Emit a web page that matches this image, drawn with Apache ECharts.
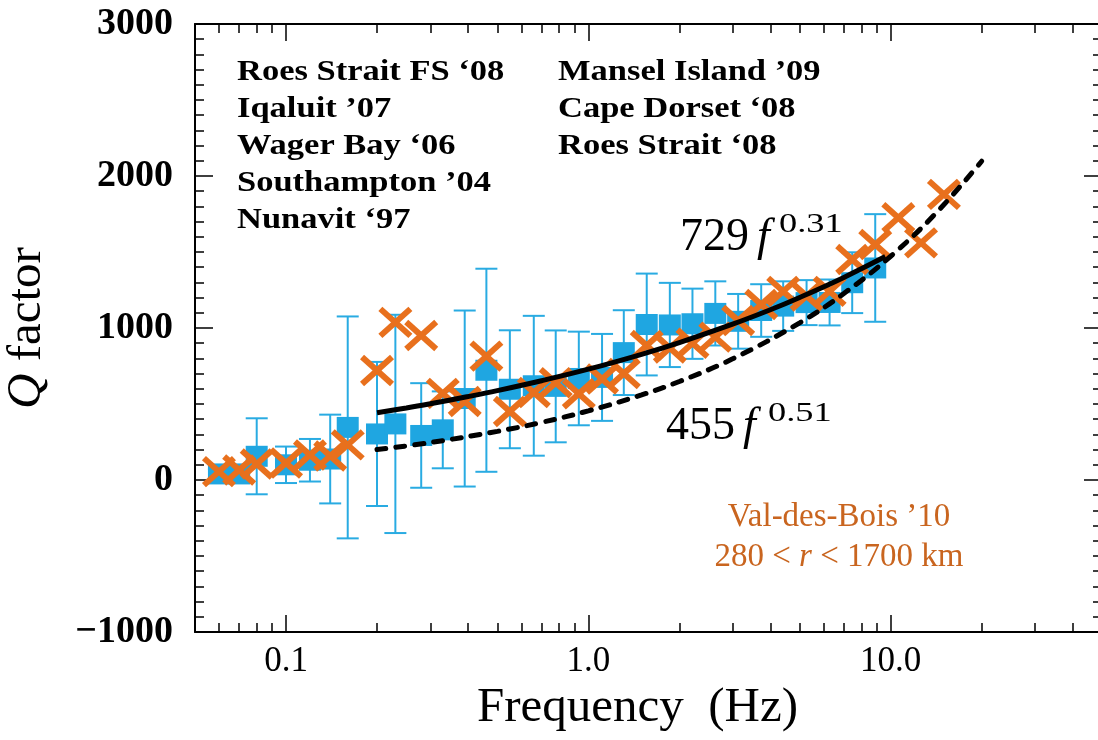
<!DOCTYPE html>
<html><head><meta charset="utf-8">
<script src="https://cdn.jsdelivr.net/npm/echarts@6/dist/echarts.min.js"></script>
<style>html,body{margin:0;padding:0;background:#fff}#main{width:1098px;height:740px}</style>
</head><body><div id="main"></div>
<script>
// ---------- data ----------
const blueFreq = [0.06, 0.07, 0.08, 0.10, 0.12, 0.14, 0.16, 0.20, 0.23, 0.28, 0.33, 0.39, 0.46, 0.55, 0.66, 0.78, 0.93, 1.11, 1.31, 1.56, 1.86, 2.21, 2.63, 3.13, 3.73, 4.41, 5.27, 6.28, 7.46, 8.89];
const blueQ    = [40, 40, 156, 100, 130, 138, 346, 303, 369, 293, 330, 536, 722, 597, 620, 616, 668, 675, 838, 1023, 1020, 1028, 1096, 1044, 1115, 1144, 1167, 1168, 1298, 1395];
const blueErr  = [30, 30, 250, 120, 140, 292, 730, 474, 718, 344, 253, 579, 668, 388, 460, 368, 308, 286, 279, 335, 277, 231, 211, 180, 173, 163, 148, 151, 200, 354];

const orangeFreq = [0.06, 0.07, 0.08, 0.10, 0.12, 0.14, 0.16, 0.20, 0.23, 0.28, 0.33, 0.39, 0.46, 0.55, 0.66, 0.78, 0.93, 1.11, 1.31, 1.56, 1.86, 2.21, 2.63, 3.13, 3.73, 4.41, 5.27, 6.28, 7.46, 8.89, 10.6, 12.6, 15.0];
const orangeQ    = [55, 66, 105, 112, 165, 158, 231, 720, 1037, 951, 570, 516, 815, 450, 576, 640, 567, 665, 700, 885, 868, 900, 940, 1050, 1155, 1241, 1210, 1241, 1450, 1549, 1725, 1560, 1879];

// fit 729 f^0.31 (solid) and 455 f^0.51 (dashed)
const fitAFreq = [0.2, 0.25, 0.3, 0.4, 0.5, 0.7, 1, 1.5, 2, 3, 4, 5, 7, 9.6];
const fitAQ    = [443, 474, 502, 549, 588, 653, 729, 827, 904, 1025, 1120, 1201, 1333, 1470];
const fitBFreq = [0.2, 0.3, 0.5, 0.7, 1, 1.5, 2, 3, 5, 7, 10, 14, 20];
const fitBQ    = [200, 246, 320, 379, 455, 560, 648, 797, 1034, 1227, 1472, 1748, 2097];

const xMajorTicks  = [0.1, 1, 10];
const xMajorLabels = ['0.1', '1.0', '10.0'];
const xMinorTicks  = [0.06, 0.07, 0.08, 0.09, 0.2, 0.3, 0.4, 0.5, 0.6, 0.7, 0.8, 0.9, 2, 3, 4, 5, 6, 7, 8, 9, 20, 30, 40];
const yTickValues  = [-1000, 0, 1000, 2000, 3000];
const yTickLabels  = ['\u22121000', '0', '1000', '2000', '3000'];

const notesLeft  = ['Roes Strait FS \u201808', 'Iqaluit \u201907', 'Wager Bay \u201806', 'Southampton \u201904', 'Nunavit \u201897'];
const notesRight = ['Mansel Island \u201909', 'Cape Dorset \u201808', 'Roes Strait \u201808'];

// ---------- style ----------
const FONT = '"Liberation Serif","Times New Roman",serif';
const BLUE = '#1fa6e1';
const ORANGE = '#e8701d';
const ORANGE_TEXT = '#c9651f';

const chart = echarts.init(document.getElementById('main'), null, {renderer: 'canvas'});

function xAxisDef(pos, major, withLine) {
  return {
    type: 'log', logBase: 10, min: 0.05, max: 50, position: pos, gridIndex: 0,
    splitLine: {show: false}, minorTick: {show: false}, minorSplitLine: {show: false},
    axisLine: {show: withLine, onZero: false, lineStyle: {color: '#000', width: 2}},
    axisTick: {show: true, inside: true, length: major ? 17 : 9,
      lineStyle: {color: '#000', width: 1.5}, customValues: major ? xMajorTicks : xMinorTicks},
    axisLabel: {show: false}
  };
}
function yAxisDef(pos) {
  return {
    type: 'value', min: -1000, max: 3000, interval: 1000, position: pos,
    splitLine: {show: false},
    axisLine: {show: true, onZero: false, lineStyle: {color: '#000', width: 2}},
    axisTick: {show: true, inside: true, length: 18, lineStyle: {color: '#000', width: 1.5}},
    minorTick: {show: true, splitNumber: 10, length: 9, lineStyle: {color: '#000', width: 1.5}},
    axisLabel: {show: false}
  };
}

const xBottom = xAxisDef('bottom', true, true);
xBottom.axisLabel = {
  show: true, customValues: xMajorTicks, margin: 12, color: '#000',
  fontFamily: FONT, fontSize: 35,
  formatter: function (v) {
    for (let i = 0; i < xMajorTicks.length; i++) {
      if (Math.abs(Math.log10(v) - Math.log10(xMajorTicks[i])) < 1e-6) return xMajorLabels[i];
    }
    return '';
  }
};
xBottom.name = 'Frequency  (Hz)';
xBottom.nameLocation = 'middle';
xBottom.nameGap = 46;
xBottom.nameTextStyle = {fontFamily: FONT, fontSize: 49, color: '#000', padding: [0, 22, 0, 0]};

const yLeft = yAxisDef('left');
yLeft.axisLabel = {
  show: true, margin: 22, color: '#000', fontFamily: FONT, fontSize: 38, fontWeight: 'bold',
  formatter: function (v) {
    const i = yTickValues.indexOf(v);
    return i >= 0 ? yTickLabels[i] : '';
  }
};
yLeft.name = '{q|Q} factor';
yLeft.nameLocation = 'middle';
yLeft.nameRotate = 90;
yLeft.nameGap = 143;
yLeft.nameTextStyle = {fontFamily: FONT, fontSize: 49, color: '#000',
  rich: {q: {fontFamily: FONT, fontSize: 49, fontStyle: 'italic', color: '#000'}}};

function txt(text, x, y, opts) {
  const o = Object.assign({size: 28, weight: 'normal', style: 'normal', color: '#000', align: 'left', sx: 1}, opts || {});
  return {
    type: 'text', x: x, y: y, scaleX: o.sx, z: 100,
    style: {
      text: text, fill: o.color, fontFamily: FONT, fontSize: o.size, fontWeight: o.weight, fontStyle: o.style,
      align: o.align, verticalAlign: 'middle', textAlign: o.align, textVerticalAlign: 'middle', rich: o.rich
    }
  };
}

const rowsY = [72, 109, 146, 183, 220];
const graphics = [];
notesLeft.forEach((t, i) => graphics.push(txt(t, 237, rowsY[i], {weight: 'bold', size: 30, sx: 1.15})));
notesRight.forEach((t, i) => graphics.push(txt(t, 558, rowsY[i], {weight: 'bold', size: 30, sx: 1.15})));
graphics.push(txt('729', 680, 238, {size: 46}));
graphics.push(txt('f', 757, 238, {size: 46, style: 'italic'}));
graphics.push(txt('0.31', 779, 225, {size: 28, sx: 1.3}));
graphics.push(txt('455', 666, 427, {size: 46}));
graphics.push(txt('f', 743, 427, {size: 46, style: 'italic'}));
graphics.push(txt('0.51', 768, 414, {size: 28, sx: 1.3}));
graphics.push(txt('Val-des-Bois \u201910', 839, 517, {size: 33, color: ORANGE_TEXT, align: 'center'}));
graphics.push(txt('280 < {r|r} < 1700 km', 839, 557, {size: 33, color: ORANGE_TEXT, align: 'center',
  rich: {r: {fontFamily: FONT, fontSize: 33, fontStyle: 'italic', fill: ORANGE_TEXT, color: ORANGE_TEXT}}}));

const option = {
  animation: false,
  backgroundColor: '#fff',
  textStyle: {fontFamily: FONT},
  grid: {left: 195, top: 24, right: -4, bottom: 108, containLabel: false, outerBoundsMode: 'none'},
  xAxis: [xBottom, xAxisDef('bottom', false, false), xAxisDef('top', true, true), xAxisDef('top', false, false)],
  yAxis: [yLeft, yAxisDef('right')],
  series: [
    {
      type: 'custom', name: 'error', xAxisIndex: 0, yAxisIndex: 0, z: 2, silent: true,
      data: blueFreq.map((f, i) => [f, blueQ[i] - blueErr[i], blueQ[i] + blueErr[i]]),
      encode: {x: 0, y: [1, 2]},
      renderItem: function (params, api) {
        const lo = api.coord([api.value(0), api.value(1)]);
        const hi = api.coord([api.value(0), api.value(2)]);
        const hw = 11;
        const st = {stroke: '#29abe2', lineWidth: 2, fill: null};
        return {type: 'group', children: [
          {type: 'line', shape: {x1: lo[0], y1: lo[1], x2: hi[0], y2: hi[1]}, style: st},
          {type: 'line', shape: {x1: lo[0] - hw, y1: lo[1], x2: lo[0] + hw, y2: lo[1]}, style: st},
          {type: 'line', shape: {x1: hi[0] - hw, y1: hi[1], x2: hi[0] + hw, y2: hi[1]}, style: st}
        ]};
      }
    },
    {
      type: 'scatter', name: 'Arctic', xAxisIndex: 0, yAxisIndex: 0, z: 3, silent: true,
      symbol: 'rect', symbolSize: [22, 21], itemStyle: {color: BLUE, opacity: 1},
      data: blueFreq.map((f, i) => [f, blueQ[i]])
    },
    {
      type: 'custom', name: 'Val-des-Bois', xAxisIndex: 0, yAxisIndex: 0, z: 4, silent: true,
      data: orangeFreq.map((f, i) => [f, orangeQ[i]]),
      encode: {x: 0, y: 1},
      renderItem: function (params, api) {
        const c = api.coord([api.value(0), api.value(1)]);
        const hx = 15, hy = 13.5;
        const st = {stroke: ORANGE, lineWidth: 6, fill: null};
        return {type: 'group', children: [
          {type: 'line', shape: {x1: c[0] - hx, y1: c[1] - hy, x2: c[0] + hx, y2: c[1] + hy}, style: st},
          {type: 'line', shape: {x1: c[0] - hx, y1: c[1] + hy, x2: c[0] + hx, y2: c[1] - hy}, style: st}
        ]};
      }
    },
    {
      type: 'line', name: '729f^0.31', xAxisIndex: 0, yAxisIndex: 0, z: 5, silent: true,
      smooth: 0.4, symbol: 'none', lineStyle: {color: '#000', width: 5},
      data: fitAFreq.map((f, i) => [f, fitAQ[i]])
    },
    {
      type: 'line', name: '455f^0.51', xAxisIndex: 0, yAxisIndex: 0, z: 5, silent: true,
      smooth: 0.4, symbol: 'none', lineStyle: {color: '#000', width: 5, type: [9, 10], cap: 'round'},
      data: fitBFreq.map((f, i) => [f, fitBQ[i]])
    }
  ],
  graphic: graphics
};
chart.setOption(option);
</script></body></html>
